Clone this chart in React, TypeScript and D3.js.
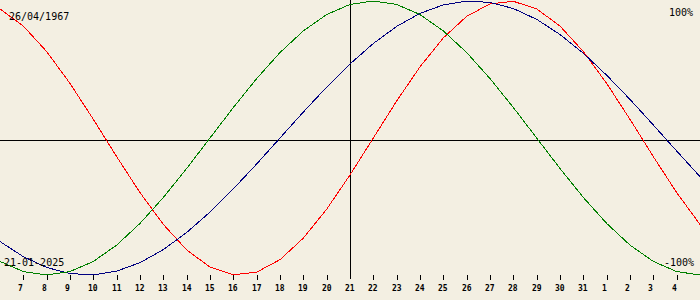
import React from "react";
import * as d3 from "d3";

const birthLabel = "26/04/1967";
const dateLabel = "21-01-2025";
const topLabel = "100%";
const bottomLabel = "-100%";

// day offsets relative to the selected date (21 Jan)
const dayOffsets = [-15, -14, -13, -12, -11, -10, -9, -8, -7, -6, -5, -4, -3, -2, -1, 0, 1, 2, 3, 4, 5, 6, 7, 8, 9, 10, 11, 12, 13, 14, 15];

const physical = [0.9423, 0.817, 0.6311, 0.3984, 0.1362, -0.1362, -0.3984, -0.6311, -0.817, -0.9423, -0.9977, -0.9791, -0.888, -0.7308, -0.5196, -0.2698, 0, 0.2698, 0.5196, 0.7308, 0.888, 0.9791, 0.9977, 0.9423, 0.817, 0.6311, 0.3984, 0.1362, -0.1362, -0.3984, -0.6311];

const emotional = [-0.901, -0.9749, -1, -0.9749, -0.901, -0.7818, -0.6235, -0.4339, -0.2225, 0, 0.2225, 0.4339, 0.6235, 0.7818, 0.901, 0.9749, 1, 0.9749, 0.901, 0.7818, 0.6235, 0.4339, 0.2225, 0, -0.2225, -0.4339, -0.6235, -0.7818, -0.901, -0.9749, -1];

const intellectual = [-0.7557, -0.866, -0.945, -0.9898, -0.9989, -0.9718, -0.9096, -0.8146, -0.6901, -0.5406, -0.3717, -0.1893, 0, 0.1893, 0.3717, 0.5406, 0.6901, 0.8146, 0.9096, 0.9718, 0.9989, 0.9898, 0.945, 0.866, 0.7557, 0.6182, 0.4582, 0.2817, 0.0951, -0.0951, -0.2817];

const tickOffsets = [-14, -13, -12, -11, -10, -9, -8, -7, -6, -5, -4, -3, -2, -1, 1, 2, 3, 4, 5, 6, 7, 8, 9, 10, 11, 12, 13, 14];
const tickLabels = ["7", "8", "9", "10", "11", "12", "13", "14", "15", "16", "17", "18", "19", "20", "22", "23", "24", "25", "26", "27", "28", "29", "30", "31", "1", "2", "3", "4"];
const centerLabel = "21";

const W = 700;
const H = 300;
const BG = "#f3efe2";

export default function App() {
  const x = d3.scaleLinear().domain([-15, 15]).range([0, W]);
  const y = d3.scaleLinear().domain([-1, 1]).range([275, 1]);
  const line = d3
    .line<number>()
    .x((_, i) => x(dayOffsets[i]))
    .y((v) => y(v));

  const series = [
    { values: physical, color: "#ff0000" },
    { values: intellectual, color: "#000080" },
    { values: emotional, color: "#008000" },
  ];

  const mono = "'DejaVu Sans Mono', monospace";
  const cx = Math.round(x(0)) + 0.5;

  return (
    <svg
      width={W}
      height={H}
      style={{ position: "absolute", left: 0, top: 0, display: "block" }}
    >
      <rect x={0} y={0} width={W} height={H} fill={BG} />
      <line x1={0} x2={W} y1={140.5} y2={140.5} stroke="#000" strokeWidth={1} shapeRendering="crispEdges" />
      <line x1={cx} x2={cx} y1={0} y2={279} stroke="#000" strokeWidth={1} shapeRendering="crispEdges" />
      {tickOffsets.map((d, i) => {
        const tx = Math.round(x(d)) + 0.5;
        return (
          <g key={i}>
            <line x1={tx} x2={tx} y1={275} y2={280} stroke="#000" strokeWidth={1} shapeRendering="crispEdges" />
            <text x={tx - 5.5} y={291} fontFamily={mono} fontSize={8} fontWeight="bold" fill="#000">
              {tickLabels[i]}
            </text>
          </g>
        );
      })}
      <text x={cx - 5.5} y={291} fontFamily={mono} fontSize={8} fontWeight="bold" fill="#000">
        {centerLabel}
      </text>
      {series.map((s, i) => (
        <path key={i} d={line(s.values) || ""} fill="none" stroke={s.color} strokeWidth={1} shapeRendering="crispEdges" />
      ))}
      <text x={9} y={20} fontFamily={mono} fontSize={10} fill="#000">{birthLabel}</text>
      <text x={4} y={266} fontFamily={mono} fontSize={10} fill="#000">{dateLabel}</text>
      <text x={693} y={16} fontFamily={mono} fontSize={10} fill="#000" textAnchor="end">{topLabel}</text>
      <text x={694} y={266} fontFamily={mono} fontSize={10} fill="#000" textAnchor="end">{bottomLabel}</text>
    </svg>
  );
}
